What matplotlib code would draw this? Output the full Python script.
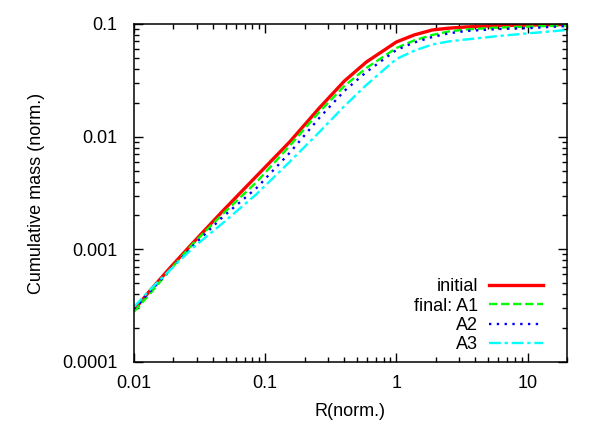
"""
Cumulative mass profiles, initial state and final states A1-A3
"""

import matplotlib
matplotlib.use("Agg")
import matplotlib.pyplot as plt
from matplotlib.ticker import NullFormatter

# radius (normalised) where the curves were read
radius = [0.01, 0.0132, 0.0188, 0.0281, 0.0475, 0.0861, 0.1535, 0.259,
          0.402, 0.591, 1.0, 1.37, 1.88, 2.5, 3.4, 6.07, 10.8, 20.0]

mass_initial = [0.000290, 0.000428, 0.000684, 0.00114, 0.00219, 0.00448,
                0.00897, 0.0180, 0.0312, 0.0460, 0.0692, 0.0800, 0.0885,
                0.0918, 0.0941, 0.0970, 0.0980, 0.0990]
mass_a1 = [0.000279, 0.000402, 0.000656, 0.00112, 0.00206, 0.00396,
           0.00827, 0.0166, 0.0282, 0.0407, 0.0612, 0.0715, 0.0799,
           0.0858, 0.0894, 0.0931, 0.0950, 0.0970]
mass_a2 = [0.000296, 0.000419, 0.000656, 0.00107, 0.00194, 0.00351,
           0.00717, 0.0147, 0.0255, 0.0375, 0.0588, 0.0685, 0.0767,
           0.0826, 0.0867, 0.0903, 0.0922, 0.0960]
mass_a3 = [0.000308, 0.000437, 0.000656, 0.00103, 0.00171, 0.00310,
           0.00597, 0.0110, 0.0187, 0.0288, 0.0489, 0.0580, 0.0658,
           0.0700, 0.0729, 0.0783, 0.0832, 0.0885]

x_ticks = [0.01, 0.1, 1, 10]
x_tick_labels = ["0.01", "0.1", "1", "10"]
y_ticks = [0.0001, 0.001, 0.01, 0.1]
y_tick_labels = ["0.0001", "0.001", "0.01", "0.1"]

plt.rcParams["font.family"] = ["Liberation Sans", "DejaVu Sans"]
plt.rcParams["font.size"] = 13

fig = plt.figure(figsize=(6.0, 4.21), dpi=100)
ax = fig.add_axes([134 / 600, 1 - 362 / 421, 433 / 600, 338 / 421])

ax.plot(radius, mass_initial, color="#ff0000", lw=2.4, label="initial")
ax.plot(radius, mass_a1, color="#00ff00", lw=1.7, dashes=(3.5, 1.6), label="final: A1")
ax.plot(radius, mass_a2, color="#0000ff", lw=1.7, dashes=(1.0, 2.3), label="A2")
ax.plot(radius, mass_a3, color="#00ffff", lw=1.7, dashes=(5.0, 1.6, 1.4, 1.6), label="A3")

ax.set_xscale("log")
ax.set_yscale("log")
ax.set_xlim(0.01, 20)
ax.set_ylim(0.0001, 0.1)

ax.set_xticks(x_ticks, x_tick_labels)
ax.set_yticks(y_ticks, y_tick_labels)
ax.xaxis.set_minor_formatter(NullFormatter())
ax.yaxis.set_minor_formatter(NullFormatter())
ax.tick_params(which="both", direction="in", top=True, right=True, width=1.0, color="black")
ax.tick_params(which="major", length=6.5)
ax.tick_params(which="minor", length=3.5)
ax.tick_params(axis="y", which="major", pad=12)
ax.tick_params(axis="x", which="major", pad=9)
for spine in ax.spines.values():
    spine.set_linewidth(1.1)

ax.set_xlabel("R(norm.)", labelpad=8)
ax.set_ylabel("Cumulative mass (norm.)", labelpad=12)

ax.legend(loc="lower right", bbox_to_anchor=(0.9446, 0.026), frameon=False,
          markerfirst=False, handlelength=3.0, handletextpad=0.6,
          labelspacing=0.13, borderpad=0.0, borderaxespad=0.0)

fig.savefig("out.png", dpi=100)
